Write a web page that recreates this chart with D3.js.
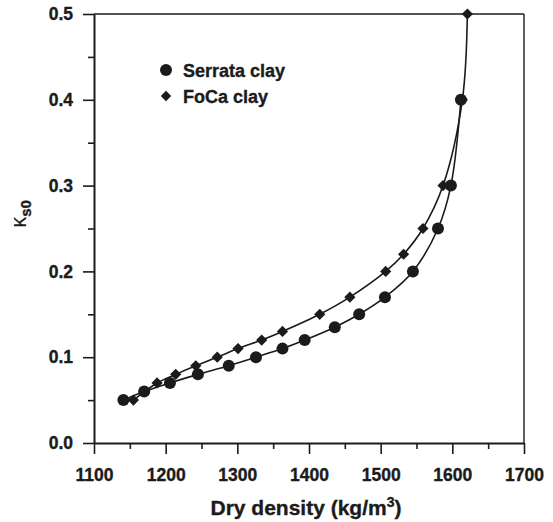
<!DOCTYPE html>
<html>
<head>
<meta charset="utf-8">
<script src="https://cdn.jsdelivr.net/npm/d3@7"></script>
<style>
  html, body { margin: 0; padding: 0; background: #fff; }
  svg { display: block; font-family: "Liberation Sans", Arial, sans-serif; }
  svg text { font-family: "Liberation Sans", Arial, sans-serif; font-weight: 700; stroke: #1b1b1b; stroke-width: 0.35px; }
</style>
</head>
<body>
<svg id="chart" width="553" height="522"></svg>
<script>
// Serrata clay: dry density (kg/m3) vs kappa_s0
const serrataDensity = [1141, 1170, 1206, 1245, 1288, 1326, 1363, 1394, 1436, 1470, 1506, 1545, 1580, 1598, 1612];
const serrataKappa   = [0.05, 0.06, 0.07, 0.08, 0.09, 0.10, 0.11, 0.12, 0.135, 0.15, 0.17, 0.20, 0.25, 0.30, 0.40];

// FoCa clay
const focaDensity = [1155, 1188, 1214, 1242, 1272, 1301, 1334, 1363, 1415, 1457, 1507, 1532, 1559, 1587, 1614, 1621];
const focaKappa   = [0.05, 0.07, 0.08, 0.09, 0.10, 0.11, 0.12, 0.13, 0.15, 0.17, 0.20, 0.22, 0.25, 0.30, 0.40, 0.50];

const xTicks = [1100, 1200, 1300, 1400, 1500, 1600, 1700];
const xMinorTicks = [1150, 1250, 1350, 1450, 1550, 1650];
const yTicks = [0.0, 0.1, 0.2, 0.3, 0.4, 0.5];
const yMinorTicks = [0.05, 0.15, 0.25, 0.35, 0.45];

const seriesNames = ["Serrata clay", "FoCa clay"];

const ink = "#1b1b1b";
const margin = { left: 94, right: 29, top: 14, bottom: 79 };
const W = 553, H = 522;
const iw = W - margin.left - margin.right;
const ih = H - margin.top - margin.bottom;

const svg = d3.select("#chart");
const g = svg.append("g").attr("transform", `translate(${margin.left},${margin.top})`);

const x = d3.scaleLinear().domain([1100, 1700]).range([0, iw]);
const y = d3.scaleLinear().domain([0, 0.5]).range([ih, 0]);

// frame: top and right edges
g.append("line").attr("x1", 0).attr("x2", iw).attr("y1", 0).attr("y2", 0)
  .attr("stroke", ink).attr("stroke-width", 1.4);
g.append("line").attr("x1", iw).attr("x2", iw).attr("y1", 0).attr("y2", ih)
  .attr("stroke", ink).attr("stroke-width", 1.4);

// minor ticks
g.append("g").attr("transform", `translate(0,${ih})`)
  .call(d3.axisBottom(x).tickValues(xMinorTicks).tickSize(6).tickFormat(""))
  .call(a => a.select(".domain").remove());
g.append("g")
  .call(d3.axisLeft(y).tickValues(yMinorTicks).tickSize(6).tickFormat(""))
  .call(a => a.select(".domain").remove());

// major axes
const xAxis = g.append("g").attr("transform", `translate(0,${ih})`)
  .call(d3.axisBottom(x).tickValues(xTicks).tickSize(11).tickSizeOuter(0).tickPadding(15).tickFormat(d3.format("d")));
const yAxis = g.append("g")
  .call(d3.axisLeft(y).tickValues(yTicks).tickSize(11).tickSizeOuter(0).tickPadding(10).tickFormat(d3.format(".1f")));

g.selectAll(".tick line").attr("stroke", ink).attr("stroke-width", 1.6);
[xAxis, yAxis].forEach(a => {
  a.attr("font-size", null).attr("font-family", null);
  a.select(".domain").attr("stroke", ink).attr("stroke-width", 2);
  a.selectAll("text").attr("fill", ink)
    .style("font-size", "17.5px").style("font-weight", "bold");
});

// axis titles
const xt = svg.append("text")
  .attr("x", 306).attr("y", 515)
  .attr("text-anchor", "middle").attr("fill", ink)
  .style("font-size", "21px").style("font-weight", "bold");
xt.append("tspan").text("Dry density (kg/m");
xt.append("tspan").style("font-size", "14px").attr("dy", -8).text("3");
xt.append("tspan").attr("dy", 8).text(")");

const yt = svg.append("text")
  .attr("transform", "translate(26,214) rotate(-90)")
  .attr("text-anchor", "middle").attr("fill", ink);
yt.append("tspan").style("font-size", "22px").style("font-weight", "normal").style("stroke-width", "0").text("κ");
yt.append("tspan").style("font-size", "15px").style("font-weight", "bold").attr("dy", 5).text("s0");

// curves
const line = d3.line().x(d => x(d[0])).y(d => y(d[1])).curve(d3.curveCatmullRom.alpha(0.5));
const serrata = serrataDensity.map((d, i) => [d, serrataKappa[i]]);
const foca = focaDensity.map((d, i) => [d, focaKappa[i]]);

g.append("path").datum(foca).attr("d", line)
  .attr("fill", "none").attr("stroke", ink).attr("stroke-width", 1.6);
g.append("path").datum(serrata).attr("d", line)
  .attr("fill", "none").attr("stroke", ink).attr("stroke-width", 1.6);

const diamond = s => `M0,${-s}L${s},0L0,${s}L${-s},0Z`;

g.selectAll(".foca").data(foca).join("path")
  .attr("class", "foca")
  .attr("transform", d => `translate(${x(d[0])},${y(d[1])})`)
  .attr("d", diamond(5.6)).attr("fill", ink);

g.selectAll(".serrata").data(serrata).join("circle")
  .attr("class", "serrata")
  .attr("cx", d => x(d[0])).attr("cy", d => y(d[1]))
  .attr("r", 6).attr("fill", ink);

// legend
const legend = svg.append("g");
legend.append("circle").attr("cx", 166).attr("cy", 70).attr("r", 6).attr("fill", ink);
legend.append("text").attr("x", 183).attr("y", 76.5)
  .style("font-size", "18px").style("font-weight", "bold").attr("fill", ink).text(seriesNames[0]);
legend.append("path").attr("transform", "translate(166,96)").attr("d", diamond(5.2)).attr("fill", ink);
legend.append("text").attr("x", 183).attr("y", 102.5)
  .style("font-size", "18px").style("font-weight", "bold").attr("fill", ink).text(seriesNames[1]);
</script>
</body>
</html>
